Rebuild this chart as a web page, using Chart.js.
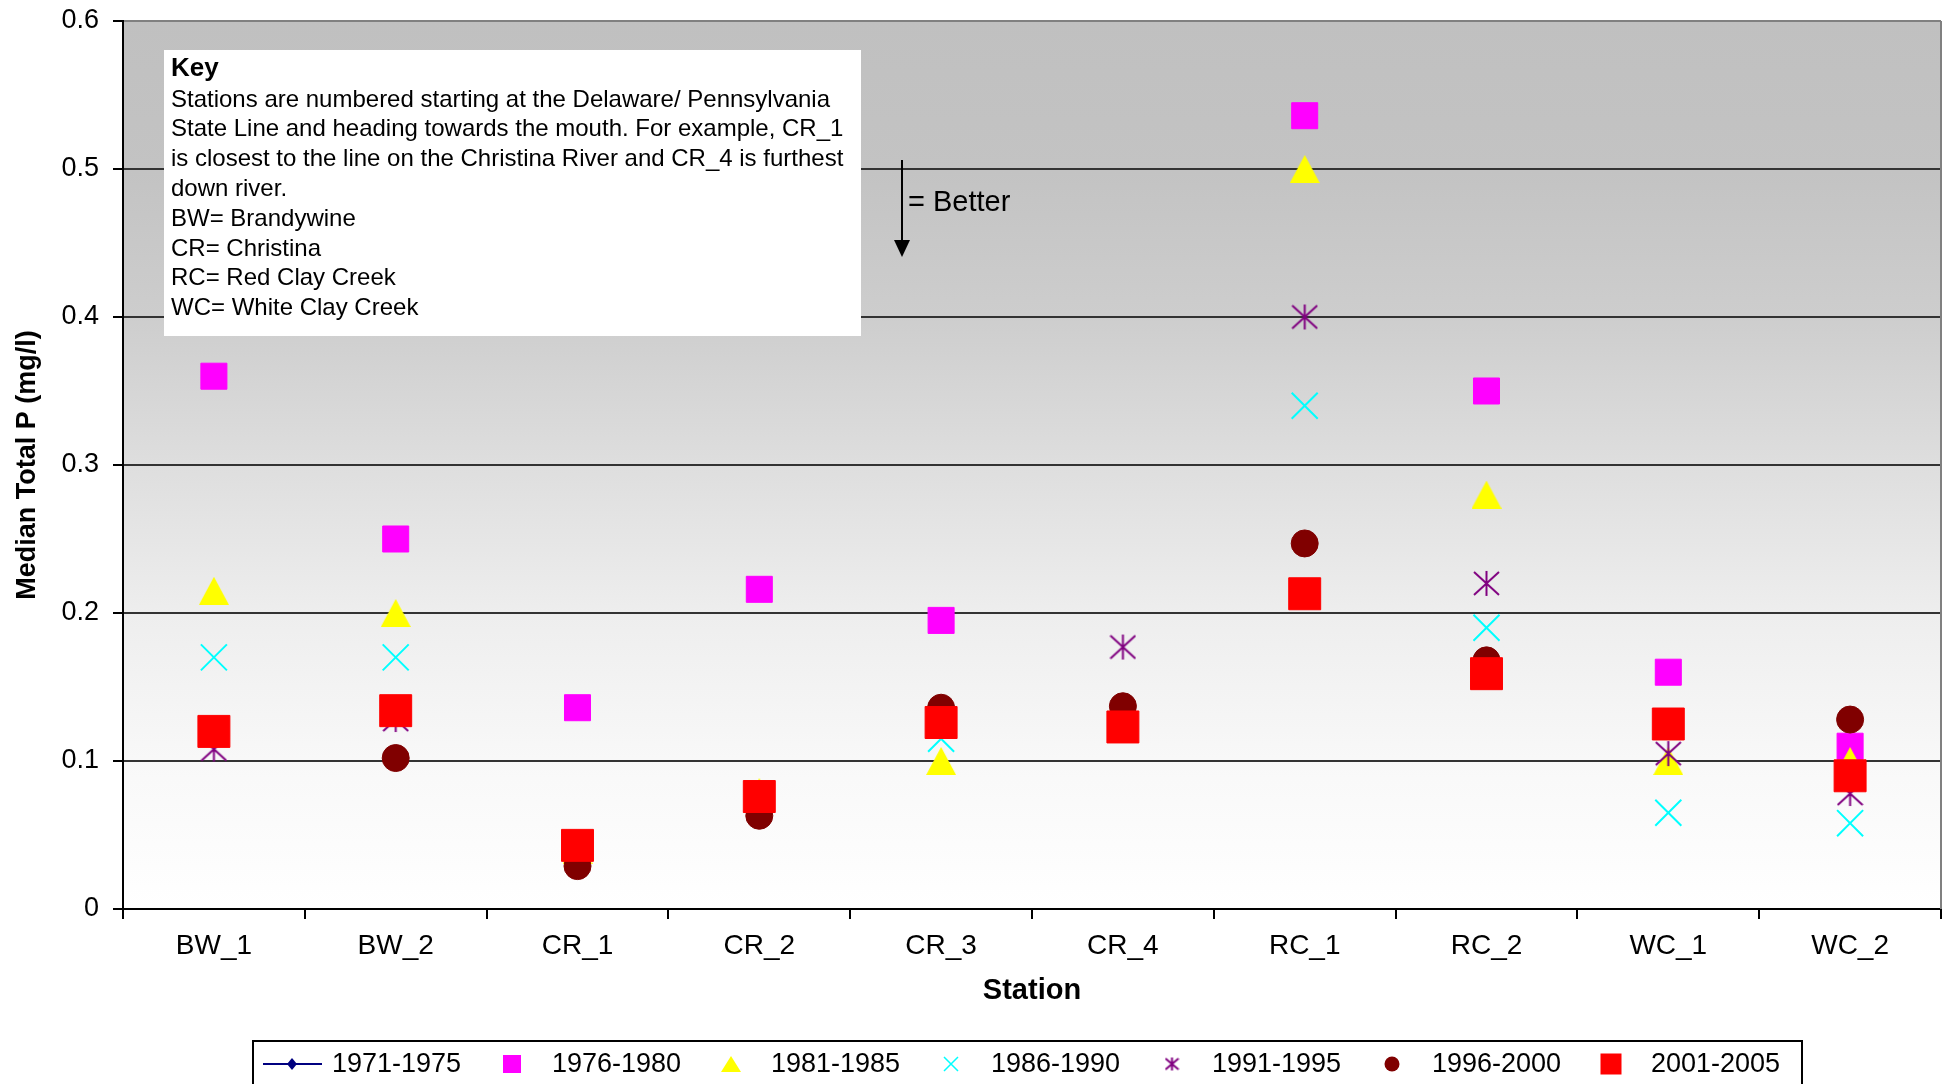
<!DOCTYPE html>
<html>
<head>
<meta charset="utf-8">
<script src="https://cdn.jsdelivr.net/npm/chart.js@4.4.1/dist/chart.umd.min.js"></script>
<style>
  html, body { margin: 0; padding: 0; background: #fff; }
  canvas { display: block; }
</style>
</head>
<body>
<canvas id="chart" width="1949" height="1084"></canvas>
<script>
const stations = ['BW_1', 'BW_2', 'CR_1', 'CR_2', 'CR_3', 'CR_4', 'RC_1', 'RC_2', 'WC_1', 'WC_2'];
const periods = ['1971-1975', '1976-1980', '1981-1985', '1986-1990', '1991-1995', '1996-2000', '2001-2005'];

// median total P (mg/l); null = not visible
const p1971 = [null, null, null, null, null, null, null, null, null, null];
const p1976 = [0.36, 0.25, 0.136, 0.216, 0.195, null, 0.536, 0.35, 0.16, 0.11];
const p1981 = [0.215, 0.20, 0.04, 0.079, 0.10, null, 0.50, 0.28, 0.10, 0.10];
const p1986 = [0.17, 0.17, null, null, 0.115, null, 0.34, 0.19, 0.065, 0.058];
const p1991 = [0.108, 0.128, null, null, 0.13, 0.177, 0.40, 0.22, 0.105, 0.078];
const p1996 = [0.12, 0.102, 0.029, 0.063, 0.136, 0.137, 0.247, 0.168, 0.125, 0.128];
const p2001 = [0.12, 0.134, 0.043, 0.076, 0.126, 0.123, 0.213, 0.159, 0.125, 0.09];

const yTicks = [0, 0.1, 0.2, 0.3, 0.4, 0.5, 0.6];

const keyLines = [
    'Stations are numbered starting at the Delaware/ Pennsylvania',
    'State Line and heading towards the mouth. For example, CR_1',
    'is closest to the line on the Christina River and CR_4 is furthest',
    'down river.',
    'BW= Brandywine',
    'CR= Christina',
    'RC= Red Clay Creek',
    'WC= White Clay Creek'
];

const FONT = '"Liberation Sans", Arial, sans-serif';
Chart.defaults.font.family = FONT;
Chart.defaults.color = '#000';

// excel-like markers that chart.js does not have
const makeTriangle = (w, h, color) => {
    const c = document.createElement('canvas');
    c.width = w; c.height = h;
    const g = c.getContext('2d');
    g.fillStyle = color;
    g.beginPath();
    g.moveTo(w / 2, 0);
    g.lineTo(w, h);
    g.lineTo(0, h);
    g.closePath();
    g.fill();
    return c;
};

const makeStar = (s, color) => {
    const c = document.createElement('canvas');
    c.width = s; c.height = s;
    const g = c.getContext('2d');
    g.strokeStyle = color;
    g.lineWidth = 2;
    g.beginPath();
    g.moveTo(s / 2, 1); g.lineTo(s / 2, s - 1);
    g.moveTo(1, 2); g.lineTo(s - 1, s - 2);
    g.moveTo(s - 1, 2); g.lineTo(1, s - 2);
    g.stroke();
    return c;
};

const triBig = makeTriangle(30, 28, '#FFFF00');
const starBig = makeStar(27, '#800080');
const triSmall = makeTriangle(20, 16, '#FFFF00');
const starSmall = makeStar(15, '#800080');

const decor = {
    id: 'decor',
    beforeDraw(chart) {
        const { ctx, chartArea: a } = chart;
        const g = ctx.createLinearGradient(0, a.top, 0, a.bottom);
        g.addColorStop(0, '#c0c0c0');
        g.addColorStop(0.17, '#c3c3c3');
        g.addColorStop(0.33, '#cdcdcd');
        g.addColorStop(0.5, '#dedede');
        g.addColorStop(0.67, '#eeeeee');
        g.addColorStop(0.83, '#f8f8f8');
        g.addColorStop(1, '#ffffff');
        ctx.save();
        ctx.fillStyle = g;
        ctx.fillRect(a.left, a.top, a.right - a.left, a.bottom - a.top);
        ctx.restore();
    },
    beforeDatasetsDraw(chart) {
        const { ctx, chartArea: a } = chart;
        ctx.save();
        // right frame
        ctx.strokeStyle = '#808080';
        ctx.lineWidth = 2;
        ctx.beginPath();
        ctx.moveTo(a.right, a.top);
        ctx.lineTo(a.right, a.bottom);
        ctx.stroke();

        // key box
        ctx.fillStyle = '#fff';
        ctx.fillRect(164, 50, 697, 286);
        ctx.fillStyle = '#000';
        ctx.textBaseline = 'middle';
        ctx.textAlign = 'left';
        ctx.font = 'bold 26px ' + FONT;
        ctx.fillText('Key', 171, 69);
        ctx.font = '24px ' + FONT;
        keyLines.forEach((t, i) => ctx.fillText(t, 171, 100 + i * 29.8));

        // "better" arrow
        ctx.strokeStyle = '#000';
        ctx.lineWidth = 2;
        ctx.beginPath();
        ctx.moveTo(902, 160);
        ctx.lineTo(902, 244);
        ctx.stroke();
        ctx.beginPath();
        ctx.moveTo(894, 240);
        ctx.lineTo(910, 240);
        ctx.lineTo(902, 257);
        ctx.closePath();
        ctx.fill();
        ctx.font = '29px ' + FONT;
        ctx.fillText('= Better', 908, 203);
        ctx.restore();
    },
    afterDraw(chart) {
        const { ctx } = chart;
        const y = 1064;
        ctx.save();
        ctx.strokeStyle = '#000';
        ctx.lineWidth = 2;
        ctx.strokeRect(253, 1041, 1549, 60);

        ctx.font = '27px ' + FONT;
        ctx.textBaseline = 'middle';
        ctx.fillStyle = '#000';
        const textX = [332, 552, 771, 991, 1212, 1432, 1651];
        periods.forEach((p, i) => ctx.fillText(p, textX[i], y + 1));

        // 1971-1975: line + diamond
        ctx.strokeStyle = '#000080';
        ctx.beginPath();
        ctx.moveTo(263, y); ctx.lineTo(322, y);
        ctx.stroke();
        ctx.fillStyle = '#000080';
        ctx.beginPath();
        ctx.moveTo(292, y - 6); ctx.lineTo(297, y); ctx.lineTo(292, y + 6); ctx.lineTo(287, y);
        ctx.closePath();
        ctx.fill();

        const mx = textX.map(t => t - 40);
        ctx.fillStyle = '#FF00FF';
        ctx.fillRect(mx[1] - 9, y - 9, 18, 18);
        ctx.drawImage(triSmall, mx[2] - 10, y - 8);
        ctx.strokeStyle = '#00FFFF';
        ctx.lineWidth = 1.5;
        ctx.beginPath();
        ctx.moveTo(mx[3] - 7, y - 7); ctx.lineTo(mx[3] + 7, y + 7);
        ctx.moveTo(mx[3] + 7, y - 7); ctx.lineTo(mx[3] - 7, y + 7);
        ctx.stroke();
        ctx.drawImage(starSmall, mx[4] - 7.5, y - 7.5);
        ctx.fillStyle = '#800000';
        ctx.beginPath();
        ctx.arc(mx[5], y, 7.5, 0, Math.PI * 2);
        ctx.fill();
        ctx.fillStyle = '#FF0000';
        ctx.fillRect(mx[6] - 10.5, y - 10.5, 21, 21);
        ctx.restore();
    }
};

const pts = (label, data, style, radius, color, order, extra) => Object.assign({
    label: label,
    data: data,
    showLine: false,
    pointStyle: style,
    pointRadius: radius,
    pointHoverRadius: radius,
    pointBackgroundColor: color,
    pointBorderColor: color,
    pointBorderWidth: 1,
    backgroundColor: color,
    borderColor: color,
    order: order
}, extra || {});

new Chart(document.getElementById('chart'), {
    type: 'line',
    data: {
        labels: stations,
        datasets: [
            pts(periods[0], p1971, 'rectRot', 6, '#000080', 6, { showLine: true, borderWidth: 2 }),
            pts(periods[1], p1976, 'rect', 18.4, '#FF00FF', 5),
            pts(periods[2], p1981, triBig, 15, '#FFFF00', 4),
            pts(periods[3], p1986, 'crossRot', 18.4, '#00FFFF', 3, { pointBorderWidth: 2 }),
            pts(periods[4], p1991, starBig, 14, '#800080', 2),
            pts(periods[5], p1996, 'circle', 13.5, '#800000', 1),
            pts(periods[6], p2001, 'rect', 22.6, '#FF0000', 0)
        ]
    },
    options: {
        responsive: false,
        animation: false,
        events: [],
        layout: { autoPadding: false, padding: { left: 0, top: 21, right: 8, bottom: 74 } },
        plugins: {
            legend: { display: false },
            tooltip: { enabled: false }
        },
        scales: {
            x: {
                type: 'category',
                offset: true,
                grid: {
                    offset: true,
                    drawOnChartArea: false,
                    color: '#000',
                    lineWidth: 2,
                    tickLength: 10
                },
                border: { color: '#000', width: 2 },
                ticks: { font: { size: 28 }, padding: 10, maxRotation: 0 },
                title: {
                    display: true,
                    text: 'Station',
                    font: { size: 29, weight: 'bold' },
                    padding: { top: 0, bottom: 2 }
                },
                afterFit: (scale) => {
                    scale.height = 101;
                    scale.paddingLeft = 0;
                    scale.paddingRight = 0;
                }
            },
            y: {
                min: 0,
                max: 0.6,
                afterBuildTicks: (scale) => { scale.ticks = yTicks.map(v => ({ value: v })); },
                grid: {
                    color: (c) => (c.tick && c.tick.value === 0.6 ? '#808080' : '#333'),
                    lineWidth: 2,
                    tickLength: 10,
                    tickColor: '#000'
                },
                border: { color: '#000', width: 2 },
                ticks: {
                    font: { size: 27 },
                    padding: 14,
                    callback: (v) => String(Number(v.toFixed(1)))
                },
                title: {
                    display: true,
                    text: 'Median Total P (mg/l)',
                    font: { size: 27, weight: 'bold' },
                    padding: { top: 11, bottom: 0 }
                },
                afterFit: (scale) => {
                    scale.width = 123;
                    scale.paddingTop = 0;
                    scale.paddingBottom = 0;
                }
            }
        }
    },
    plugins: [decor]
});
</script>
</body>
</html>
